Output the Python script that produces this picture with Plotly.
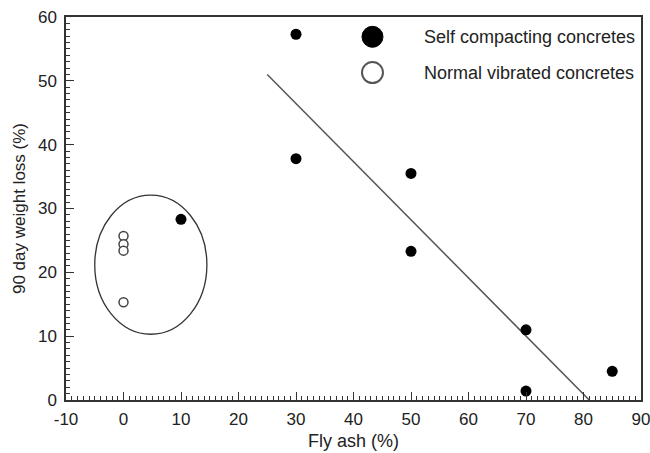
import plotly.graph_objects as go

# Fly ash content (%) and 90-day weight loss (%)
scc_fly_ash = [10, 30, 30, 50, 50, 70, 70, 85]
scc_weight_loss = [28.3, 57.3, 37.8, 35.5, 23.3, 11.0, 1.4, 4.5]

nvc_fly_ash = [0, 0, 0, 0]
nvc_weight_loss = [25.7, 24.4, 23.4, 15.3]

# Trend line end points
trend_x = [25, 81]
trend_y = [51, 0]

# Ellipse enclosing the normal vibrated mixes
ellipse_x = [-5.0, 14.5]
ellipse_y = [10.3, 32.1]

x_tick_values = [-10, 0, 10, 20, 30, 40, 50, 60, 70, 80, 90]
x_tick_labels = ["-10", "0", "10", "20", "30", "40", "50", "60", "70", "80", "90"]

legend_labels = ["Self compacting concretes", "Normal vibrated concretes"]
x_title = "Fly ash (%)"
y_title = "90 day weight loss (%)"

FONT = "Liberation Sans, Arial, sans-serif"
INK = "#222222"

fig = go.Figure()

fig.add_trace(go.Scatter(
    x=trend_x, y=trend_y, mode="lines",
    line=dict(color="#555555", width=1.5), showlegend=False, hoverinfo="skip",
))
fig.add_trace(go.Scatter(
    x=scc_fly_ash, y=scc_weight_loss, mode="markers", name=legend_labels[0],
    marker=dict(size=11, color="black", line=dict(width=0)), showlegend=False,
))
fig.add_trace(go.Scatter(
    x=nvc_fly_ash, y=nvc_weight_loss, mode="markers", name=legend_labels[1],
    marker=dict(size=9, color="white", line=dict(color="#444444", width=1.5)),
    showlegend=False,
))

shapes = [
    dict(type="circle", xref="x", yref="y",
         x0=ellipse_x[0], x1=ellipse_x[1], y0=ellipse_y[0], y1=ellipse_y[1],
         line=dict(color="#333333", width=1.3)),
]

# Hand-drawn legend: large symbols followed by labels
legend_x = 43.3
legend_rows = [56.9, 51.3]
legend_styles = [
    dict(fillcolor="black", line=dict(color="black", width=1)),
    dict(fillcolor="white", line=dict(color="#555555", width=2)),
]
annotations = []
for row_y, style, label in zip(legend_rows, legend_styles, legend_labels):
    shapes.append(dict(
        type="circle", xref="x", yref="y", xsizemode="pixel", ysizemode="pixel",
        xanchor=legend_x, yanchor=row_y, x0=-10.5, x1=10.5, y0=-10.5, y1=10.5,
        **style,
    ))
    annotations.append(dict(
        x=legend_x, y=row_y, xref="x", yref="y", xshift=50,
        text=label, showarrow=False, xanchor="left", yanchor="middle",
        font=dict(family=FONT, size=18, color=INK),
    ))

# X-axis title sits low, near the bottom edge of the figure
annotations.append(dict(
    x=0.5, y=0, xref="paper", yref="paper", yshift=-41,
    text=x_title, showarrow=False, xanchor="center", yanchor="middle",
    font=dict(family=FONT, size=18, color=INK),
))

fig.update_layout(
    width=650, height=453,
    margin=dict(l=66, r=9, t=17, b=53),
    paper_bgcolor="white", plot_bgcolor="white",
    font=dict(family=FONT, size=17, color=INK),
    shapes=shapes, annotations=annotations,
    showlegend=False,
)

fig.update_xaxes(
    range=[-10, 90], tickvals=x_tick_values, ticktext=x_tick_labels,
    automargin=False, ticklabeloverflow="allow",
    ticks="inside", ticklen=8, tickwidth=1, tickcolor="#333333",
    minor=dict(ticks="inside", dtick=1, ticklen=4, tickcolor="#333333", tickwidth=1),
    showline=True, linecolor="#333333", linewidth=1.5, mirror=True,
    showgrid=False, zeroline=False,
    tickfont=dict(size=17), ticklabelstandoff=3,
)
fig.update_yaxes(
    range=[0, 60], dtick=10, automargin=False, ticklabeloverflow="allow",
    ticks="inside", ticklen=8, tickwidth=1, tickcolor="#333333",
    minor=dict(ticks="inside", dtick=1, ticklen=4, tickcolor="#333333", tickwidth=1),
    showline=True, linecolor="#333333", linewidth=1.5, mirror=True,
    showgrid=False, zeroline=False,
    title=dict(text=y_title, standoff=8, font=dict(size=17)),
    tickfont=dict(size=17), ticklabelstandoff=4,
)

fig.write_html("out.html")
